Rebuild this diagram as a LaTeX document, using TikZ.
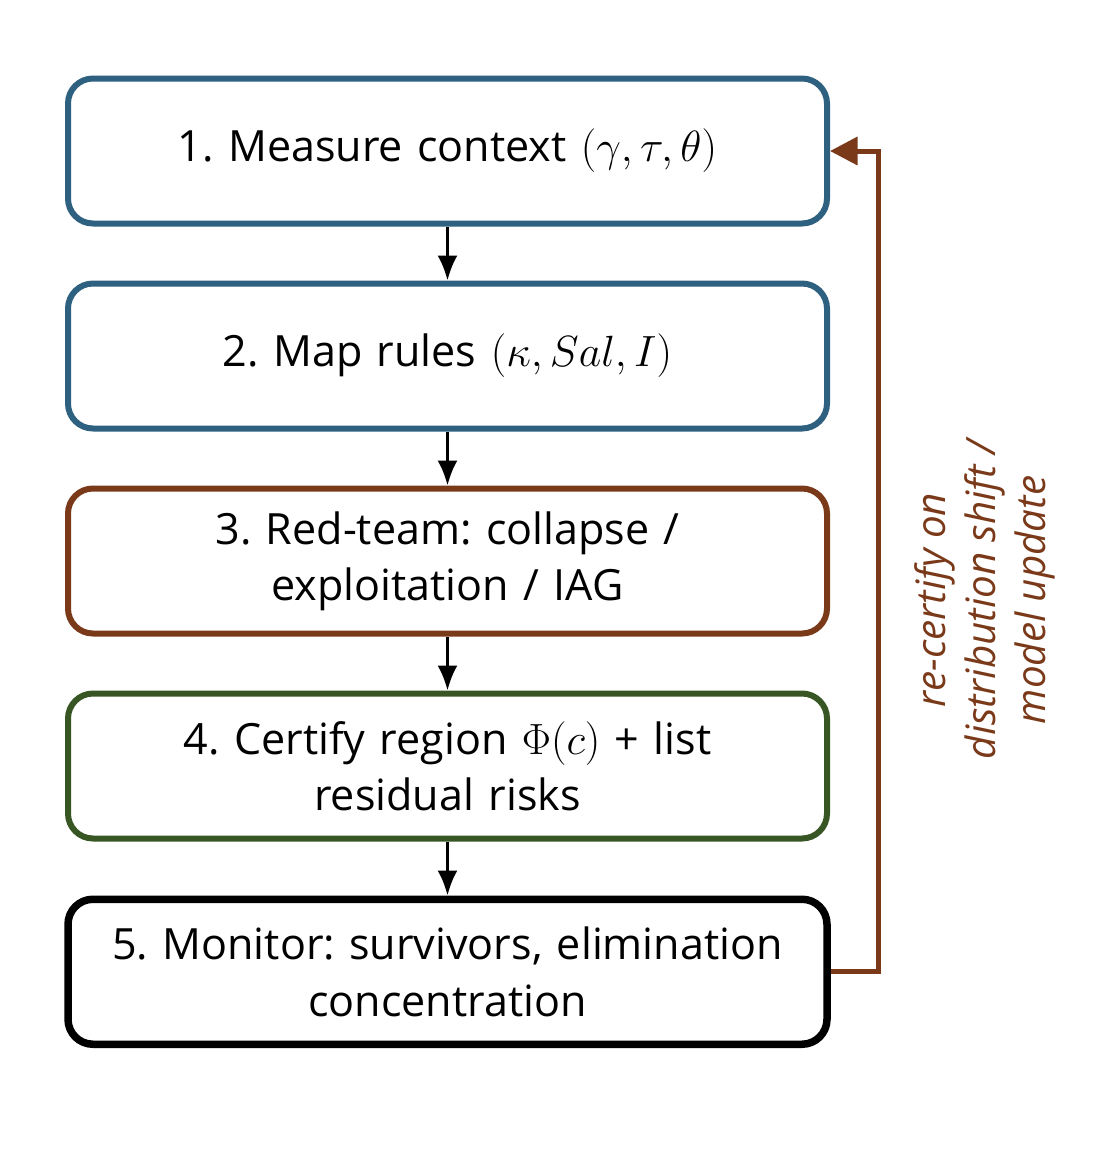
\documentclass[tikz,border=0pt]{standalone}
\usepackage{fontspec}
\setmainfont{Open Sans}
\usetikzlibrary{arrows.meta, positioning, calc}
\definecolor{stageblue}{RGB}{46,96,128}
\definecolor{stagebrown}{RGB}{122,58,26}
\definecolor{stagegreen}{RGB}{56,86,35}
\frenchspacing

\begin{document}
\begin{tikzpicture}[
  node distance=1.08cm,
  box/.style={draw, rounded corners=0.5cm, line width=0.12cm, font=\fontsize{24.5}{32}\selectfont, align=center, minimum width=15.18cm, minimum height=2.9cm, text width=14.4cm},
  bluebox/.style={box, draw=stageblue},
  brownbox/.style={box, draw=stagebrown},
  greenbox/.style={box, draw=stagegreen},
  blackbox/.style={box, draw=black, line width=0.15cm},
  flow/.style={-{Latex[length=0.5cm, width=0.4cm]}, line width=0.06cm},
]
\useasboundingbox (0,0) rectangle (21.88,-23.08);

\node[bluebox] (measure) at (8.95,-3.02) {1. Measure context $(\gamma,\tau,\theta)$};
\node[bluebox, below=of measure] (maprules) {2. Map rules $(\kappa,Sal,I)$};
\node[brownbox, below=of maprules] (redteam) {3. Red-team: collapse /\\ exploitation / IAG};
\node[greenbox, below=of redteam] (certify) {4. Certify region $\Phi(c)$ + list\\ residual risks};
\node[blackbox, below=of certify] (monitor) {5. Monitor: survivors, elimination\\ concentration};

\draw[flow] (measure) -- (maprules);
\draw[flow] (maprules) -- (redteam);
\draw[flow] (redteam) -- (certify);
\draw[flow] (certify) -- (monitor);

% re-certification loop
\coordinate (loop) at (17.56,0);
\draw[-{Triangle[length=0.55cm, width=0.55cm]}, stagebrown, line width=0.1cm]
  (monitor.east) -- (monitor.east -| loop) -- (measure.east -| loop) -- (measure.east);
\node[rotate=90, text=stagebrown, align=center, font=\fontsize{23}{28.5}\selectfont\itshape] (recert) at (19.7,-12.0)
  {re-certify on\\ distribution shift /\\ model update};
\end{tikzpicture}
\end{document}
